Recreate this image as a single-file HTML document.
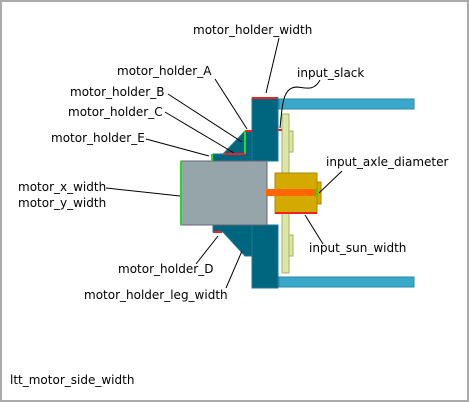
<!DOCTYPE html>
<html><head><meta charset="utf-8"><style>
html,body{margin:0;padding:0;background:#fff}
svg{display:block}
text{font-family:"DejaVu Sans","Liberation Sans",sans-serif;font-size:12px;fill:#000}
</style></head><body>
<svg width="469" height="402" viewBox="0 0 469 402" xmlns="http://www.w3.org/2000/svg">
<rect x="1" y="1" width="467" height="400" fill="#fff" stroke="#aaa" stroke-width="2"/>
<rect x="279" y="99" width="135" height="10" fill="#3aa8c8" stroke="#2a8aa8" stroke-width="1"/>
<rect x="279" y="277" width="135" height="10" fill="#3aa8c8" stroke="#2a8aa8" stroke-width="1"/>
<rect x="282" y="114" width="7" height="159" fill="#dde6a8" stroke="#a8b060" stroke-width="1"/>
<rect x="289" y="131" width="4" height="21" fill="#dde6a8" stroke="#a8b060" stroke-width="1"/>
<rect x="289" y="235" width="4" height="21" fill="#dde6a8" stroke="#a8b060" stroke-width="1"/>
<rect x="252" y="98" width="26" height="63" fill="#006680" stroke="#1a7a95" stroke-width="1"/>
<rect x="252" y="225" width="26" height="63" fill="#006680" stroke="#1a7a95" stroke-width="1"/>
<polygon points="213,161 252,161 252,131 245,131 223,154 213,154" fill="#006680" stroke="#1a7a95" stroke-width="1"/>
<polygon points="213,225 252,225 252,256 245,256 223,232 213,232" fill="#006680" stroke="#1a7a95" stroke-width="1"/>
<rect x="181" y="161" width="86" height="64" fill="#95a5aa" stroke="#667" stroke-width="1"/>
<rect x="275" y="173" width="42" height="40" fill="#d4aa00" stroke="#aa8800" stroke-width="1"/>
<rect x="317" y="182" width="4" height="22" fill="#d4aa00" stroke="#aa8800" stroke-width="1"/>
<rect x="266" y="189" width="51" height="7" fill="#ff6600"/>
<g stroke-width="2">
<line x1="181" y1="161" x2="181" y2="225" stroke="#22dd22"/>
<line x1="212" y1="154" x2="212" y2="161" stroke="#22dd22"/>
<line x1="245" y1="131" x2="245" y2="154" stroke="#22dd22"/>
<line x1="317" y1="189" x2="317" y2="196" stroke="#22dd22"/>
<line x1="252" y1="98" x2="278" y2="98" stroke="#ee2222"/>
<line x1="245" y1="131" x2="252" y2="131" stroke="#ee2222"/>
<line x1="223" y1="154" x2="245" y2="154" stroke="#ee2222"/>
<line x1="278" y1="130" x2="282" y2="130" stroke="#ee2222"/>
<line x1="213" y1="232" x2="222" y2="232" stroke="#ee2222"/>
<line x1="275" y1="213" x2="317" y2="213" stroke="#ee2222"/>
</g>
<g stroke="#000" stroke-width="1" fill="none">
<line x1="279" y1="38" x2="266" y2="93"/>
<line x1="215" y1="79" x2="247" y2="129"/>
<line x1="168" y1="94" x2="242" y2="142"/>
<line x1="165" y1="112" x2="234" y2="153"/>
<line x1="146" y1="139" x2="209" y2="156"/>
<line x1="106" y1="188" x2="180" y2="196"/>
<line x1="196" y1="264" x2="218" y2="236"/>
<line x1="226" y1="288" x2="242" y2="251"/>
<path d="M320,80 C312,95 300,84 292,88 C282,92 282,110 280,128"/>
<line x1="342" y1="171" x2="319" y2="193"/>
<line x1="323" y1="244" x2="305" y2="215"/>
</g>
<text x="193" y="34">motor_holder_width</text>
<text x="117" y="75">motor_holder_A</text>
<text x="297" y="77">input_slack</text>
<text x="70" y="96">motor_holder_B</text>
<text x="68" y="116">motor_holder_C</text>
<text x="51" y="142">motor_holder_E</text>
<text x="326" y="166">input_axle_diameter</text>
<text x="18" y="191">motor_x_width</text>
<text x="18" y="207">motor_y_width</text>
<text x="309" y="252">input_sun_width</text>
<text x="118" y="273">motor_holder_D</text>
<text x="84" y="299">motor_holder_leg_width</text>
<text x="10" y="384">ltt_motor_side_width</text>
</svg>
</body></html>
